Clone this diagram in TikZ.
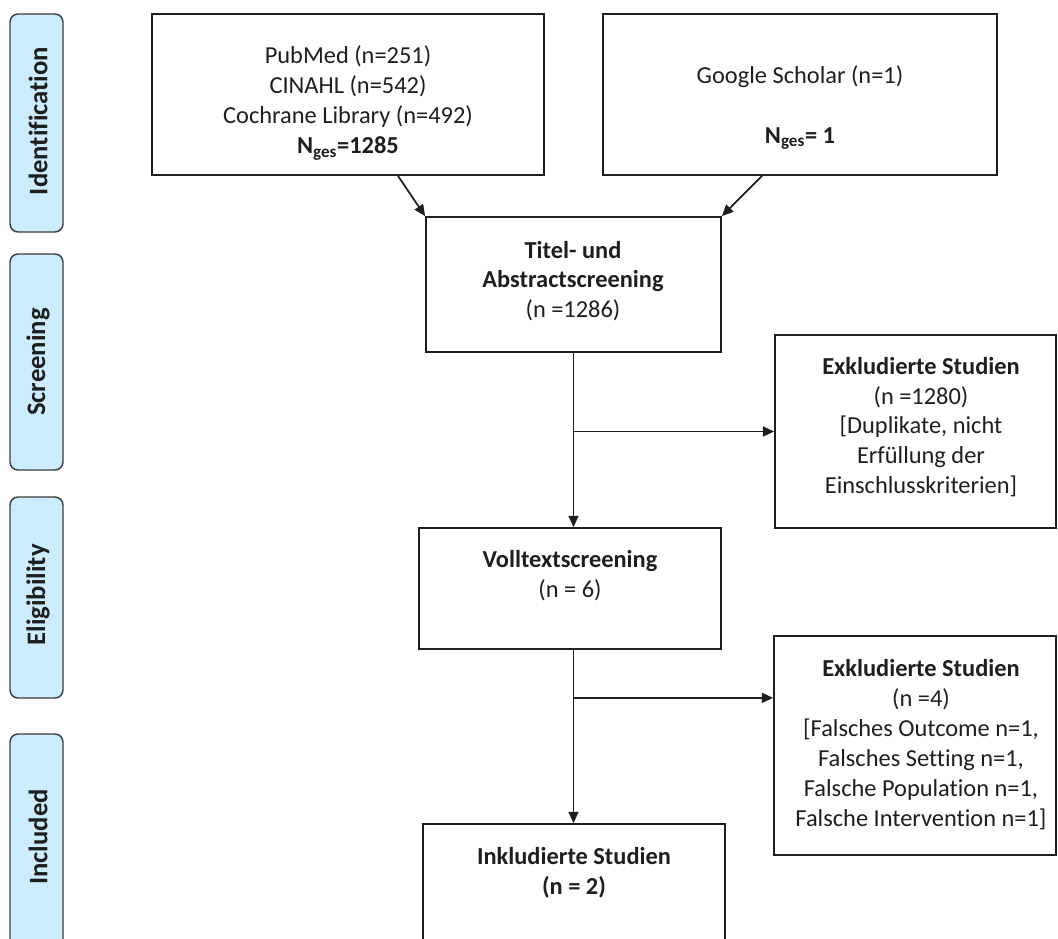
\documentclass[tikz,border=0pt]{standalone}
\usepackage{fontspec}
\setmainfont{Carlito}[Ligatures=NoCommon]
\usetikzlibrary{arrows.meta,fit,calc}
\definecolor{barfill}{RGB}{204,236,255}
\definecolor{barline}{RGB}{60,60,60}
\definecolor{ink}{RGB}{30,30,30}
\begin{document}
\begin{tikzpicture}[x=0.75pt,y=-0.75pt,
  box/.style={draw=ink,line width=1.3pt,inner sep=0pt},
  bar/.style={draw=barline,fill=barfill,line width=1.1pt,rounded corners=6pt,inner sep=0pt},
  txt/.style={align=center,font=\fontsize{18.3}{22.4}\selectfont,text=ink,inner sep=0pt},
  lbl/.style={font=\fontsize{20}{24}\selectfont\bfseries,rotate=90,text=ink,inner sep=0pt},
  arr/.style={draw=ink,line width=1.3pt,-{Triangle[length=8.5pt,width=7.5pt]}},
  ln/.style={draw=ink,line width=1.3pt}]
\useasboundingbox (0,0) rectangle (1058,939);
\clip (0,0) rectangle (1058,939);

% phase bars
\node[bar,fit={(10,14)(63,232)}] (bI) {};
\node[lbl] (bIt) at (38,121) {Identification};
\node[bar,fit={(10,254)(63,470)}] (bS) {};
\node[lbl] (bSt) at (38,362) {Screening};
\node[bar,fit={(10,497)(63,698)}] (bE) {};
\node[lbl] (bEt) at (38,595) {Eligibility};
\node[bar,fit={(10,734)(63,950)}] (bN) {};
\node[lbl] (bNt) at (38,837) {Included};

% boxes
\node[box,fit={(152,14)(544,175)}] (src1) {};
\node[txt] (src1t) at (348,103) {PubMed (n=251)\\CINAHL (n=542)\\Cochrane Library (n=492)\\\textbf{N\textsubscript{ges}=1285}};

\node[box,fit={(603,14)(997,175)}] (src2) {};
\node[txt] (src2t) at (800,107.5) {Google Scholar (n=1)\\[22.4pt]\textbf{N\textsubscript{ges}= 1}};

\node[box,fit={(426,217)(721,352)}] (titel) {};
\node[txt] (titelt) at (573,281) {\textbf{Titel- und}\\\textbf{Abstractscreening}\\(n =1286)};

\node[box,fit={(775,335)(1056,528)}] (exkl1) {};
\node[txt] (exkl1t) at (921,427) {\textbf{Exkludierte Studien}\\(n =1280)\\{[}Duplikate, nicht\\Erfüllung der\\Einschlusskriterien]};

\node[box,fit={(419,528)(721,649)}] (vol) {};
\node[txt] (volt) at (570,576) {\textbf{Volltextscreening}\\(n = 6)};

\node[box,fit={(774,636)(1056,855)}] (exkl2) {};
\node[txt] (exkl2t) at (921,744.5) {\textbf{Exkludierte Studien}\\(n =4)\\{[}Falsches Outcome n=1,\\Falsches Setting n=1,\\Falsche Population n=1,\\Falsche Intervention n=1]};

\node[box,fit={(423,824)(725,960)}] (inkl) {};
\node[txt] (inklt) at (574,872.5) {\textbf{Inkludierte Studien}\\\textbf{(n = 2)}};

% connectors
\draw[arr] ($(src1.south)+(50,0)$) -- (titel.north west);
\draw[arr] ($(src2.south)+(-38,0)$) -- (titel.north east);
\draw[arr] (titel.south) -- (titel.south |- vol.north);
\coordinate (b1) at (titel.south |- exkl1.west);
\draw[arr] (b1) -- (exkl1.west);
\draw[arr] (titel.south |- vol.south) -- (titel.south |- inkl.north);
\coordinate (b2) at ($(titel.south |- vol.south)+(0,48)$);
\draw[arr] (b2) -- (b2 -| exkl2.west);
\end{tikzpicture}
\end{document}
